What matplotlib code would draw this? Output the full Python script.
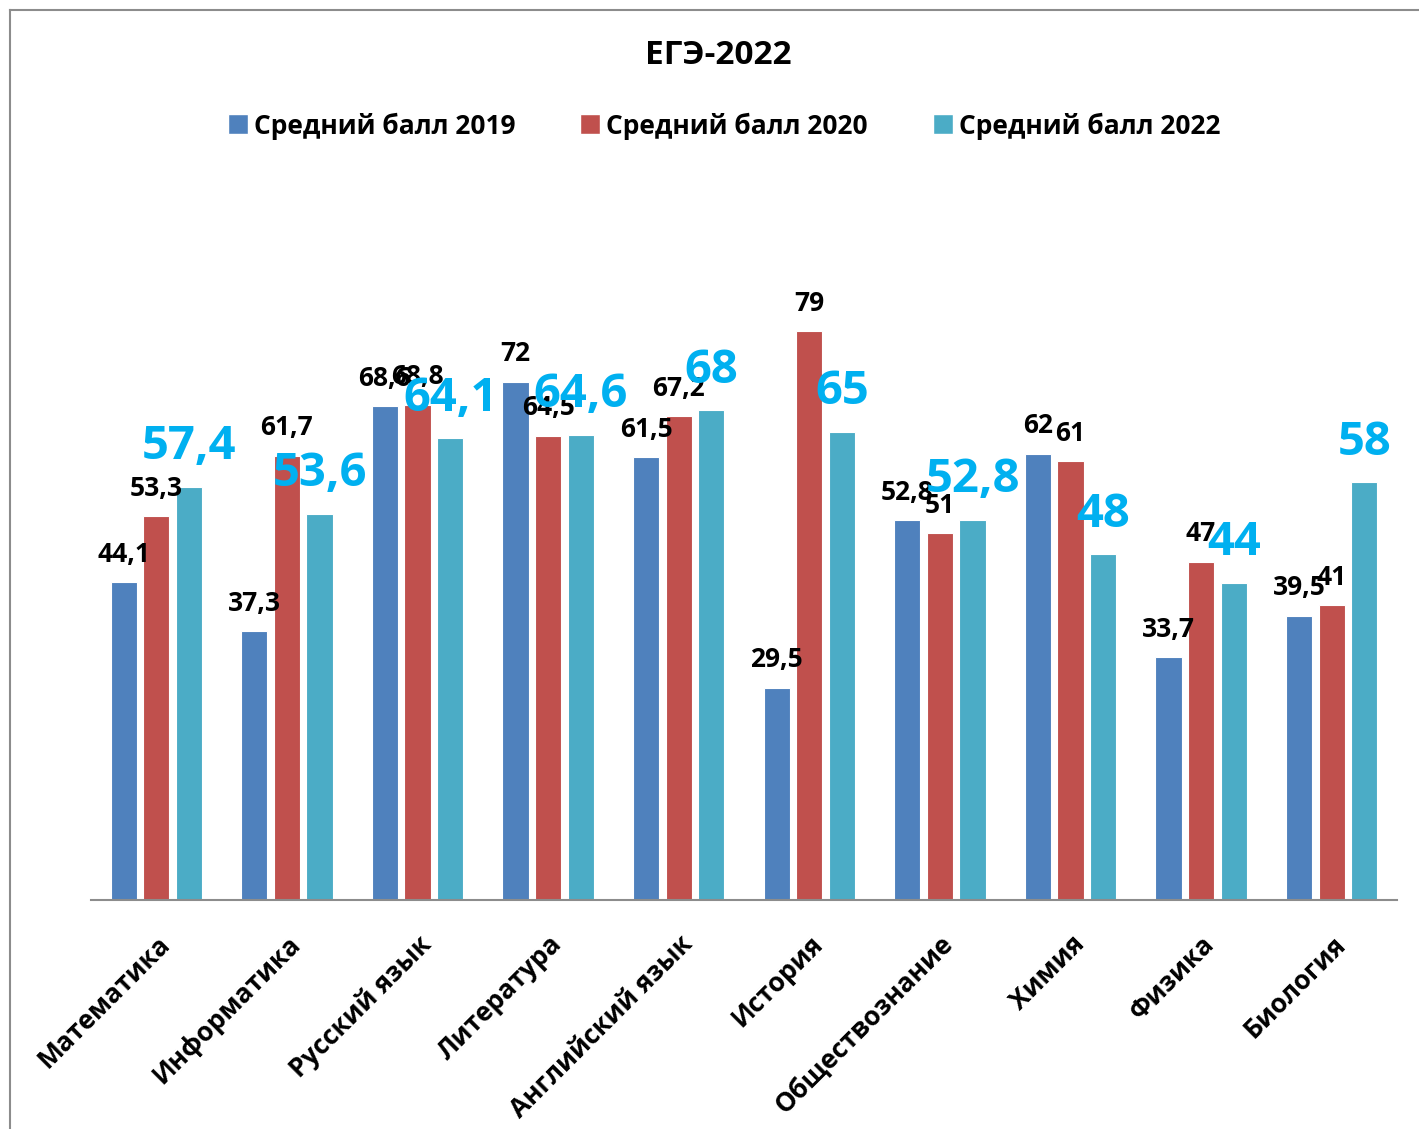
import matplotlib
matplotlib.use("Agg")
import matplotlib.pyplot as plt
from matplotlib.lines import Line2D
import numpy as np

plt.rcParams['font.family'] = ['Open Sans', 'DejaVu Sans']

categories = ["Математика", "Информатика", "Русский язык", "Литература", "Английский язык",
              "История", "Обществознание", "Химия", "Физика", "Биология"]
scores_2019 = [44.1, 37.3, 68.6, 72, 61.5, 29.5, 52.8, 62, 33.7, 39.5]
scores_2020 = [53.3, 61.7, 68.8, 64.5, 67.2, 79, 51, 61, 47, 41]
scores_2022 = [57.4, 53.6, 64.1, 64.6, 68, 65, 52.8, 48, 44, 58]
series_names = ["Средний балл 2019", "Средний балл 2020", "Средний балл 2022"]
title = "ЕГЭ-2022"

colors = ["#4F81BD", "#C0504D", "#4BACC6"]
label_blue = "#00B0F0"

W, H = 1419, 1129
fig = plt.figure(figsize=(W / 100, H / 100), dpi=100)
ax = fig.add_axes([91 / W, (H - 900) / H, (1397 - 91) / W, (900 - 180) / H])

x = np.arange(len(categories))
width = 0.2
pitch = 0.25
series = [scores_2019, scores_2020, scores_2022]

def fmt(v):
    return ("%g" % v).replace(".", ",")

for i, (vals, c, name) in enumerate(zip(series, colors, series_names)):
    xs = x + (i - 1) * pitch
    ax.bar(xs, vals, width=width, color=c, edgecolor="white", linewidth=0.8, label=name, zorder=2)
    for xi, v in zip(xs, vals):
        if i < 2:
            ax.annotate(fmt(v), (xi, v), xytext=(0, 20), textcoords="offset points",
                        ha="center", va="center", fontsize=19, fontweight="bold",
                        color="black", zorder=5)
        else:
            ax.annotate(fmt(v), (xi, v), xytext=(0, 29), textcoords="offset points",
                        ha="center", va="center", fontsize=34, fontweight="bold",
                        color=label_blue, zorder=6)

ax.set_xlim(-0.5, len(categories) - 0.5)
ax.set_ylim(0, 100)
ax.set_yticks([])
for s in ["top", "right", "left"]:
    ax.spines[s].set_visible(False)
ax.spines["bottom"].set_color("#8c8c8c")
ax.spines["bottom"].set_linewidth(1.5)
ax.set_xticks(x)
ax.set_xticklabels(categories, rotation=45, ha="right", rotation_mode="anchor",
                   fontsize=19, fontweight="bold")
ax.tick_params(axis="x", length=0, pad=22)

fig.text(718 / W, 1 - 56 / H, title, ha="center", va="center", fontsize=24, fontweight="bold")

handles = [Line2D([0], [0], marker="s", color="w", markerfacecolor=c, markersize=15, linestyle="None")
           for c in colors]
fig.legend(handles, series_names, loc="center", bbox_to_anchor=(723 / W, 1 - 126 / H),
           ncol=3, frameon=False, prop={"size": 19, "weight": "bold"},
           handletextpad=0.15, columnspacing=2.4, handlelength=0.9)

# chart frame
fig.add_artist(Line2D([10 / W, 10 / W], [0, 1 - 10 / H], transform=fig.transFigure,
                      color="#8c8c8c", linewidth=1.5))
fig.add_artist(Line2D([10 / W, 1], [1 - 10 / H, 1 - 10 / H], transform=fig.transFigure,
                      color="#8c8c8c", linewidth=1.5))

fig.savefig("out.png", dpi=100)
